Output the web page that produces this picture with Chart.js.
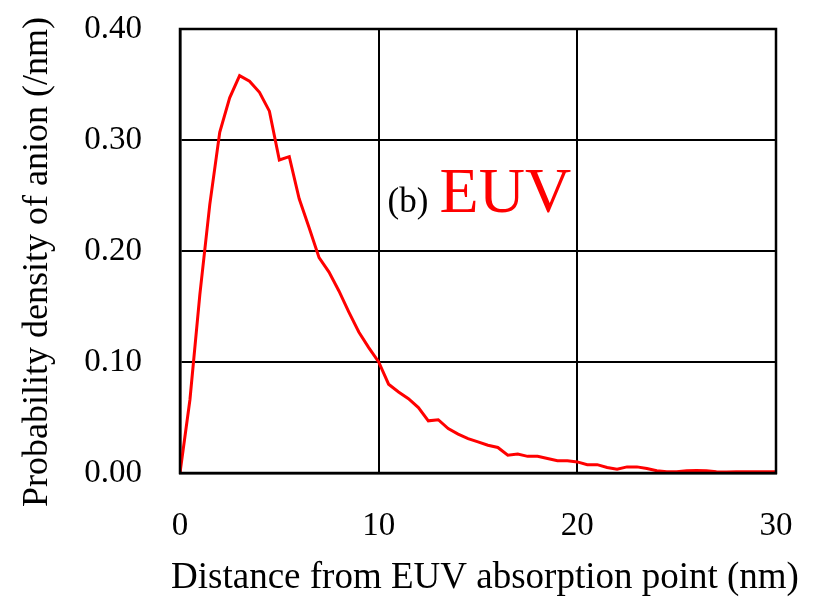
<!DOCTYPE html>
<html>
<head>
<meta charset="utf-8">
<script src="https://cdn.jsdelivr.net/npm/chart.js"></script>
<style>
  html, body { margin: 0; padding: 0; background: #fff; }
</style>
</head>
<body>
<canvas id="chart" width="816" height="599"></canvas>
<script>
// distance from EUV absorption point (nm)
const distance = [
  0, 0.5, 1, 1.5, 2, 2.5, 3, 3.5, 4, 4.5, 5, 5.5, 6, 6.5, 7, 7.5, 8, 8.5, 9, 9.5,
  10, 10.5, 11, 11.5, 12, 12.5, 13, 13.5, 14, 14.5, 15, 15.5, 16, 16.5, 17, 17.5,
  18, 18.5, 19, 19.5, 20, 20.5, 21, 21.5, 22, 22.5, 23, 23.5, 24, 24.5, 25, 25.5,
  26, 26.5, 27, 27.5, 28, 28.5, 29, 29.5, 30
];
// probability density of anion (/nm)
const density = [
  0, 0.066, 0.161, 0.242, 0.307, 0.338, 0.358, 0.353, 0.343, 0.326, 0.282, 0.285,
  0.247, 0.221, 0.194, 0.181, 0.164, 0.145, 0.127, 0.113,
  0.100, 0.080, 0.073, 0.067, 0.059, 0.047, 0.048, 0.040, 0.035, 0.031, 0.028, 0.025,
  0.023, 0.016, 0.017, 0.015, 0.015, 0.013, 0.011, 0.011,
  0.010, 0.0075, 0.0075, 0.005, 0.0035, 0.0055, 0.0055, 0.004, 0.002, 0.0012, 0.0012, 0.002,
  0.0022, 0.002, 0.0012, 0.0008, 0.0012, 0.0012, 0.0012, 0.0012, 0.0012
];
const xTicks = [0, 10, 20, 30];
const yTicks = [0, 0.1, 0.2, 0.3, 0.4];

const serif = "'Liberation Serif', 'DejaVu Serif', serif";

// "(b) EUV" label inside the plot, plus both axis titles
// (drawn by hand so Chart.js does not squeeze them to the plot width)
const labelPlugin = {
  id: 'euvLabel',
  afterDatasetsDraw(chart) {
    const { ctx, scales } = chart;
    const x = scales.x.getPixelForValue(10.45);
    const y = scales.y.getPixelForValue(0.235);
    ctx.save();
    ctx.textBaseline = 'alphabetic';
    ctx.textAlign = 'left';
    ctx.fillStyle = '#000';
    ctx.font = '35px ' + serif;
    ctx.fillText('(b)', x, y);
    ctx.fillStyle = '#ff0000';
    ctx.font = '64px ' + serif;
    ctx.fillText('EUV', x + 52, y);

    ctx.fillStyle = '#000';
    ctx.font = '37px ' + serif;
    ctx.textAlign = 'center';
    ctx.textBaseline = 'middle';
    ctx.fillText('Distance from EUV absorption point (nm)', 485, 578);

    ctx.font = '36px ' + serif;
    ctx.translate(38, 262);
    ctx.rotate(-Math.PI / 2);
    ctx.fillText('Probability density of anion (/nm)', 0, 0);
    ctx.restore();
  }
};

new Chart(document.getElementById('chart'), {
  type: 'line',
  data: {
    datasets: [{
      data: distance.map((d, i) => ({ x: d, y: density[i] })),
      borderColor: '#ff0000',
      borderWidth: 3,
      pointRadius: 0,
      tension: 0,
      fill: false
    }]
  },
  options: {
    responsive: false,
    animation: false,
    layout: { padding: { left: 0, top: 29, right: 40, bottom: 0 } },
    plugins: { legend: { display: false }, tooltip: { enabled: false } },
    scales: {
      x: {
        type: 'linear',
        min: 0, max: 30,
        afterFit: s => { s.height = 126; s.paddingLeft = 0; s.paddingRight = 0; },
        afterBuildTicks: s => { s.ticks = xTicks.map(v => ({ value: v })); },
        grid: { color: '#000', lineWidth: 2, drawTicks: false },
        border: { color: '#000', width: 2.5 },
        ticks: {
          color: '#000', padding: 34, maxRotation: 0,
          font: { family: serif, size: 33 }
        },
        title: { display: false }
      },
      y: {
        min: 0, max: 0.4,
        afterFit: s => { s.width = 180; s.paddingTop = 0; s.paddingBottom = 0; },
        afterBuildTicks: s => { s.ticks = yTicks.map(v => ({ value: v })); },
        grid: { color: '#000', lineWidth: 2, drawTicks: false },
        border: { color: '#000', width: 2.5 },
        ticks: {
          color: '#000', padding: 38,
          font: { family: serif, size: 33 },
          callback: v => v.toFixed(2)
        },
        title: { display: false }
      }
    }
  },
  plugins: [labelPlugin, {
    id: 'frame',
    afterDraw(chart) {
      const { ctx, chartArea: a } = chart;
      ctx.save();
      ctx.strokeStyle = '#000';
      ctx.lineWidth = 2.5;
      ctx.strokeRect(a.left, a.top, a.right - a.left, a.bottom - a.top);
      ctx.restore();
    }
  }]
});
</script>
</body>
</html>
